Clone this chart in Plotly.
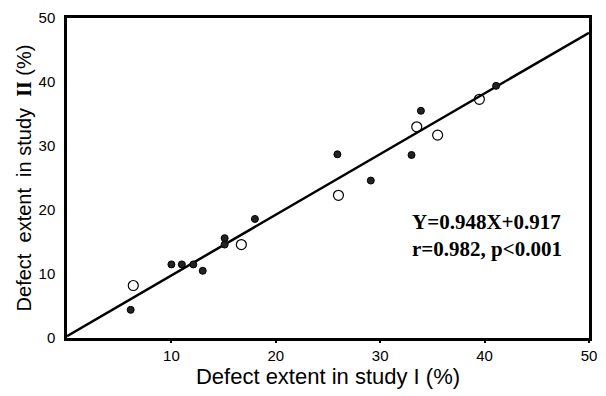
import plotly.graph_objects as go

# Data
filled_x = [6.1, 10.0, 11.0, 12.1, 13.0, 15.1, 15.1, 18.0, 25.9, 29.1, 33.0, 33.9, 41.1]
filled_y = [4.4, 11.5, 11.5, 11.5, 10.5, 15.6, 14.6, 18.6, 28.7, 24.6, 28.6, 35.5, 39.4]
open_x = [6.35, 16.7, 26.0, 33.5, 35.5, 39.5]
open_y = [8.2, 14.6, 22.3, 33.0, 31.7, 37.3]
line_x = [0, 50]
line_y = [0.3, 47.7]
x_ticks = [10, 20, 30, 40, 50]
y_ticks = [0, 10, 20, 30, 40, 50]
eq_text = "Y=0.948X+0.917"
r_text = "r=0.982, p<0.001"

fig = go.Figure()
fig.add_trace(go.Scatter(x=line_x, y=line_y, mode="lines",
                         line=dict(color="black", width=2.5), hoverinfo="skip"))
fig.add_trace(go.Scatter(x=filled_x, y=filled_y, mode="markers",
                         marker=dict(symbol="circle", size=7, color="#222",
                                     line=dict(color="#000", width=1))))
fig.add_trace(go.Scatter(x=open_x, y=open_y, mode="markers",
                         marker=dict(symbol="circle-open", size=10, color="black",
                                     line=dict(width=1.2))))

fig.add_annotation(x=32.9, y=16.0, xref="x", yref="y", xanchor="left", yanchor="middle",
                   text=f"<b>{eq_text}</b><br><b>{r_text}</b>", showarrow=False, align="left",
                   font=dict(family="Liberation Serif", size=21, color="black"))

fig.update_layout(
    width=606, height=396,
    margin=dict(l=67, r=9, t=12, b=58),
    paper_bgcolor="white", plot_bgcolor="white",
    showlegend=False,
    font=dict(family="Liberation Sans, Arial", color="black"),
)
fig.update_xaxes(range=[0, 50], tickvals=x_ticks, showgrid=False, zeroline=False,
                 showline=True, linecolor="black", linewidth=2.5, mirror=True,
                 ticks="outside", ticklen=2, tickwidth=2, tickcolor="black",
                 tickfont=dict(size=15, family="Liberation Sans"),
                 title=dict(text="Defect extent in study I (%)", standoff=5,
                            font=dict(size=22, family="Liberation Sans")))
fig.update_yaxes(range=[0, 50], tickvals=y_ticks, showgrid=False, zeroline=False,
                 showline=True, linecolor="black", linewidth=2.5, mirror=True,
                 ticks="", ticklabelstandoff=6,
                 tickfont=dict(size=15, family="Liberation Sans"),
                 title=dict(text="Defect&nbsp; extent&nbsp; in study&nbsp; <span style=\"font-family:Liberation Serif\"><b>II</b></span> (%)",
                            standoff=2, font=dict(size=20, family="Liberation Sans")))

fig.write_html("out.html")
